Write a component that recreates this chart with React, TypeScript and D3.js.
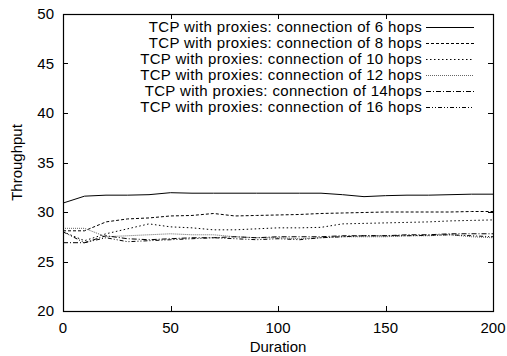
import React, { useEffect, useRef } from "react";
import * as d3 from "d3";

const durations = [0, 10, 20, 30, 40, 50, 60, 70, 80, 90, 100, 110, 120, 130, 140, 150, 160, 170, 180, 190, 200];

const hops6 = [30.9, 31.6, 31.7, 31.7, 31.75, 31.95, 31.9, 31.9, 31.9, 31.9, 31.9, 31.9, 31.9, 31.75, 31.55, 31.65, 31.7, 31.7, 31.75, 31.8, 31.8];
const hops8 = [28.1, 28.1, 29.0, 29.3, 29.4, 29.6, 29.65, 29.85, 29.6, 29.65, 29.7, 29.75, 29.85, 29.9, 29.95, 30.0, 30.0, 30.0, 30.0, 30.05, 30.05];
const hops10 = [28.0, 27.1, 27.8, 28.3, 28.8, 28.5, 28.4, 28.2, 28.2, 28.3, 28.4, 28.4, 28.45, 28.8, 28.85, 28.9, 28.95, 29.0, 29.1, 29.15, 29.2];
const hops12 = [28.35, 28.35, 27.5, 27.6, 27.7, 27.8, 27.7, 27.7, 27.5, 27.4, 27.4, 27.3, 27.4, 27.5, 27.5, 27.5, 27.6, 27.6, 27.7, 27.5, 27.4];
const hops14 = [26.9, 26.9, 27.6, 27.3, 27.2, 27.3, 27.4, 27.4, 27.5, 27.4, 27.5, 27.5, 27.5, 27.6, 27.6, 27.6, 27.7, 27.7, 27.8, 27.8, 27.8];
const hops16 = [28.0, 26.9, 27.4, 27.0, 27.1, 27.2, 27.3, 27.4, 27.3, 27.2, 27.3, 27.2, 27.4, 27.5, 27.6, 27.6, 27.6, 27.65, 27.7, 27.6, 27.5];

const seriesNames = [
  "TCP with proxies: connection of 6 hops",
  "TCP with proxies: connection of 8 hops",
  "TCP with proxies: connection of 10 hops",
  "TCP with proxies: connection of 12 hops",
  "TCP with proxies: connection of 14hops",
  "TCP with proxies: connection of 16 hops",
];
const seriesValues = [hops6, hops8, hops10, hops12, hops14, hops16];
const dashes = ["none", "3,2", "1.5,2.5", "1,1", "5,2,1,2", "4,2,1,2,1,2"];
const strokes = ["#000", "#000", "#000", "#666", "#000", "#000"];

const xTicks = [0, 50, 100, 150, 200];
const yTicks = [20, 25, 30, 35, 40, 45, 50];

const W = 507, H = 356;
const left = 63, right = 493, top = 14, bottom = 311;
const font = "'Liberation Sans', Arial, sans-serif";

export default function App() {
  const ref = useRef<SVGSVGElement>(null);

  useEffect(() => {
    const svg = d3.select(ref.current);
    svg.selectAll("*").remove();

    const x = d3.scaleLinear().domain([0, 200]).range([left, right]);
    const y = d3.scaleLinear().domain([20, 50]).range([bottom, top]);

    // ticks, gnuplot style, mirrored on all sides
    const g = svg.append("g").attr("stroke", "#000").attr("stroke-width", 1);
    xTicks.forEach(t => {
      const px = Math.round(x(t)) + 0.5;
      g.append("line").attr("x1", px).attr("x2", px).attr("y1", bottom).attr("y2", bottom - 5);
      g.append("line").attr("x1", px).attr("x2", px).attr("y1", top).attr("y2", top + 5);
    });
    yTicks.forEach(t => {
      const py = Math.round(y(t)) + 0.5;
      g.append("line").attr("x1", left).attr("x2", left + 5).attr("y1", py).attr("y2", py);
      g.append("line").attr("x1", right).attr("x2", right - 5).attr("y1", py).attr("y2", py);
    });

    svg.append("g")
      .selectAll("text")
      .data(xTicks)
      .join("text")
      .attr("x", d => x(d))
      .attr("y", 333)
      .attr("text-anchor", "middle")
      .text(d => d);

    svg.append("g")
      .selectAll("text")
      .data(yTicks)
      .join("text")
      .attr("x", 54)
      .attr("y", d => y(d) + 5)
      .attr("text-anchor", "end")
      .text(d => d);

    svg.append("text")
      .attr("x", (left + right) / 2)
      .attr("y", 352)
      .attr("text-anchor", "middle")
      .text("Duration");

    svg.append("text")
      .attr("transform", `translate(22,${(top + bottom) / 2}) rotate(-90)`)
      .attr("text-anchor", "middle")
      .text("Throughput");

    const line = d3.line<number>()
      .x((_, i) => x(durations[i]))
      .y(d => y(d));

    seriesValues.forEach((vals, i) => {
      svg.append("path")
        .datum(vals)
        .attr("fill", "none")
        .attr("stroke", strokes[i])
        .attr("stroke-width", 1)
        .attr("stroke-dasharray", dashes[i])
        .attr("d", line);
    });

    // legend
    const leg = svg.append("g");
    seriesNames.forEach((name, i) => {
      const ly = 27 + i * 16;
      leg.append("text")
        .attr("x", 422)
        .attr("y", ly + 5)
        .attr("text-anchor", "end")
        .attr("letter-spacing", 0.35)
        .text(name);
      leg.append("line")
        .attr("x1", 426).attr("x2", 474)
        .attr("y1", ly + 0.5).attr("y2", ly + 0.5)
        .attr("stroke", strokes[i])
        .attr("stroke-dasharray", dashes[i]);
    });

    svg.append("rect")
      .attr("x", left + 0.5).attr("y", top + 0.5)
      .attr("width", right - left).attr("height", bottom - top)
      .attr("fill", "none").attr("stroke", "#000").attr("stroke-width", 1.2);
  }, []);

  return (
    <svg
      ref={ref}
      width={W}
      height={H}
      style={{ position: "absolute", left: 0, top: 0, background: "#fff", fontFamily: font, fontSize: 15 }}
    />
  );
}
